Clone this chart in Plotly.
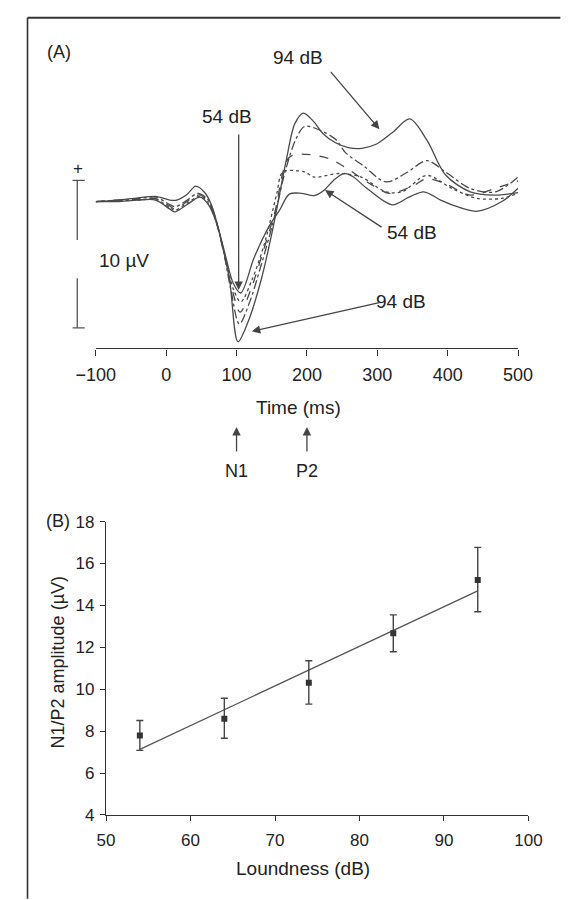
import numpy as np
import plotly.graph_objects as go

# ---------------- Panel A data: ERP waveforms (time ms, amplitude µV) ----------------
t_94 = [-100, -70, -40, -15, 5, 15, 30, 42, 55, 65, 76, 90, 102, 116, 135, 152, 170, 183, 195, 210, 223, 240, 259, 278, 299, 322, 346, 370, 397, 432, 466, 500]
v_94 = [0, 0.1, 0.25, 0.35, 0.1, 0.1, 0.5, 1.05, 0.6, -0.3, -2.2, -5.3, -9.5, -8.2, -5.3, -1.75, 2.65, 5.3, 6.0, 5.4, 4.6, 4.0, 3.65, 3.6, 3.9, 4.7, 5.6, 4.2, 1.8, 0.66, 0.44, 0.6]

t_84 = [-100, -70, -40, -15, 5, 13, 30, 45, 58, 68, 80, 92, 104, 118, 135, 152, 170, 185, 197, 220, 241, 255, 281, 312, 343, 370, 397, 432, 468, 500]
v_84 = [0, 0.05, 0.2, 0.3, -0.2, -0.35, 0.1, 0.55, 0.2, -0.8, -3.0, -6.0, -8.3, -6.9, -4.3, -1.4, 2.2, 4.3, 5.1, 4.8, 4.2, 3.3, 2.4, 1.33, 2.0, 2.77, 2.0, 0.89, 0.66, 1.66]

t_74 = [-100, -70, -40, -15, 5, 12, 30, 47, 60, 70, 82, 94, 105, 120, 137, 154, 175, 200, 232, 255, 290, 317, 352, 370, 397, 432, 468, 500]
v_74 = [0, 0.1, 0.15, 0.2, -0.3, -0.5, 0.0, 0.45, 0.0, -1.2, -3.5, -6.0, -7.5, -6.0, -3.5, -0.8, 3.0, 3.2, 2.9, 2.3, 1.2, 0.56, 1.1, 1.55, 1.2, 0.44, 0.9, 1.4]

t_64 = [-100, -70, -40, -15, 5, 12, 30, 48, 60, 72, 85, 96, 106, 122, 140, 157, 166, 197, 210, 246, 277, 312, 335, 370, 406, 441, 477, 500]
v_64 = [0, 0.05, 0.1, 0.15, -0.4, -0.6, -0.1, 0.35, -0.1, -1.5, -4.0, -6.0, -6.8, -5.3, -2.8, 0.5, 2.0, 2.0, 1.66, 1.9, 1.66, 0.66, 0.66, 1.77, 0.89, 0.22, 0.22, 0.56]

t_54 = [-100, -70, -40, -15, 5, 12, 30, 48, 60, 72, 85, 95, 106, 125, 146, 161, 175, 192, 210, 224, 237, 252, 265, 285, 321, 345, 366, 390, 406, 441, 477, 500]
v_54 = [0, 0.0, 0.1, 0.1, -0.5, -0.7, -0.2, 0.3, -0.2, -1.5, -3.8, -5.5, -6.2, -3.8, -1.7, -0.6, 0.5, 0.56, 0.4, 0.75, 1.4, 1.9, 1.7, 0.9, -0.22, 0.3, 0.66, 0.1, -0.22, -0.66, 0.0, 0.9]

time_ticks = [-100, 0, 100, 200, 300, 400, 500]

# ---------------- Panel B data: N1/P2 amplitude vs loudness ----------------
loudness = [54, 64, 74, 84, 94]
amp_mean = [7.79, 8.59, 10.31, 12.67, 15.21]
amp_err_up = [0.72, 0.98, 1.05, 0.88, 1.56]
amp_err_down = [0.71, 0.93, 1.02, 0.88, 1.51]
loud_ticks = [50, 60, 70, 80, 90, 100]
amp_ticks = [4, 6, 8, 10, 12, 14, 16, 18]

# ---------------- layout helpers (pixel -> paper, figure is 570 x 900, no margins) ----
W, H = 570, 900
def px(x):
    return x / W
def py(y):
    return 1 - y / H

FONT = "Liberation Sans, Arial, Helvetica, sans-serif"
TXT = "#222222"
LINE = "#4a4a4a"

fig = go.Figure()

styles = [
    ("54 dB", t_54, v_54, "solid"),
    ("64 dB", t_64, v_64, "dot"),
    ("74 dB", t_74, v_74, "dash"),
    ("84 dB", t_84, v_84, "dashdot"),
    ("94 dB", t_94, v_94, "solid"),
]
for name, t, v, dash in styles:
    fig.add_trace(go.Scatter(
        x=t, y=v, mode="lines", name=name,
        line=dict(color=LINE, width=1.3, dash=dash, shape="spline", smoothing=0.9),
        xaxis="x", yaxis="y", showlegend=False, hoverinfo="skip"))

# regression line through the plotted means
slope, intercept = np.polyfit(loudness, amp_mean, 1)
fit_x = [loudness[0], loudness[-1]]
fit_y = [slope * x + intercept for x in fit_x]
fig.add_trace(go.Scatter(x=fit_x, y=fit_y, mode="lines",
                         line=dict(color="#555555", width=1.3),
                         xaxis="x2", yaxis="y2", showlegend=False))
fig.add_trace(go.Scatter(
    x=loudness, y=amp_mean, mode="markers",
    marker=dict(color="#333333", size=6, symbol="square"),
    error_y=dict(type="data", symmetric=False, array=amp_err_up,
                 arrayminus=amp_err_down, color="#444444",
                 thickness=1.4, width=3.5),
    xaxis="x2", yaxis="y2", showlegend=False))

# Panel A voltage range chosen so that 10 µV = 150.7 px
mv_per_px = 1 / 15.07
yA_top, yA_bot = 90, 346.7
base_px = 196.7
yA_range = [(base_px - yA_bot) * mv_per_px, (base_px - yA_top) * mv_per_px]

axis_common = dict(showgrid=False, zeroline=False, showline=True,
                   linecolor="#333333", linewidth=1.3, ticks="outside",
                   tickcolor="#333333", tickwidth=1.3,
                   tickfont=dict(family=FONT, size=18, color=TXT))

fig.update_layout(
    width=W, height=H,
    margin=dict(l=0, r=0, t=0, b=0),
    paper_bgcolor="white", plot_bgcolor="white",
    xaxis=dict(domain=[px(80.7), px(530.7)], range=[-100, 500],
               tickvals=time_ticks, ticklen=6, anchor="y",
               ticklabelstandoff=4, **axis_common),
    yaxis=dict(domain=[py(yA_bot), py(yA_top)], range=yA_range,
               visible=False, anchor="x"),
    xaxis2=dict(domain=[px(91.7), px(541.7)], range=[50, 100],
                tickvals=loud_ticks, ticklen=5, anchor="y2",
                ticklabelstandoff=5,
                **{**axis_common, "tickfont": dict(family=FONT, size=17, color=TXT)}),
    yaxis2=dict(domain=[py(823.3), py(523.7)], range=[4, 18],
                tickvals=amp_ticks, ticklen=5, anchor="x2",
                ticklabelstandoff=2,
                **{**axis_common, "tickfont": dict(family=FONT, size=17, color=TXT)}),
)

def text(x, y, s, size=18, angle=0, xanchor="center"):
    fig.add_annotation(x=px(x), y=py(y), xref="paper", yref="paper", text=s,
                       showarrow=False, textangle=angle, xanchor=xanchor,
                       yanchor="middle",
                       font=dict(family=FONT, size=size, color=TXT))

def t2px(t):
    return 80.7 + 0.75 * (t + 100)
def v2px(v):
    return base_px - v * 15.07

def arrow_data(t, v, tail_x, tail_y):
    fig.add_annotation(x=t, y=v, xref="x", yref="y", text="", showarrow=True,
                       ax=tail_x - t2px(t), ay=tail_y - v2px(v),
                       arrowhead=2, arrowsize=1.3, arrowwidth=1.3,
                       arrowcolor="#444444")

def arrow_paper(x, y, tail_x, tail_y):
    fig.add_annotation(x=px(x), y=py(y), xref="paper", yref="paper", text="",
                       showarrow=True, ax=tail_x - x, ay=tail_y - y,
                       arrowhead=2, arrowsize=1.3, arrowwidth=1.3,
                       arrowcolor="#444444")

# panel A labels and arrows
text(42, 44, "(A)")
text(296, 50, "94 dB", size=19)
text(221, 110, "54 dB", size=19)
text(418, 228, "54 dB", size=19)
text(406, 299, "94 dB", size=19)
text(82, 257, "10 µV", size=19, xanchor="left")
text(62, 163, "+", size=17)
text(296.5, 407, "Time (ms)", size=19)
text(t2px(100), 472, "N1", size=18)
text(t2px(200), 472, "P2", size=18)

arrow_data(303, 4.9, 333, 64)
arrow_data(103, -6.0, 233, 130)
arrow_data(225.7, 0.78, 383, 223)
arrow_data(121.7, -8.8, 377, 300)
arrow_paper(t2px(100), 427, t2px(100), 453)
arrow_paper(t2px(200), 427, t2px(200), 453)

# scale bar (10 µV) in panel A
bar_top = (base_px - 175) * mv_per_px
bar_bot = bar_top - 10
gap_top = (base_px - 236) * mv_per_px
gap_bot = (base_px - 275) * mv_per_px
for y0, y1 in [(gap_top, bar_top), (bar_bot, gap_bot)]:
    fig.add_shape(type="line", xref="paper", yref="y", x0=px(61), x1=px(61),
                  y0=y0, y1=y1, line=dict(color="#555555", width=1.3))
for yv in [bar_top, bar_bot]:
    fig.add_shape(type="line", xref="paper", yref="y", x0=px(56), x1=px(69),
                  y0=yv, y1=yv, line=dict(color="#555555", width=1.3))

# panel B labels
text(40, 523, "(B)")
text(301, 878, "Loundness (dB)", size=19)
text(40, 668, "N1/P2 amplitude (µV)", size=18, angle=-90)

# frame border (left and top)
fig.add_shape(type="line", xref="paper", yref="paper", x0=px(8), x1=1.01,
              y0=py(9), y1=py(9), line=dict(color="#333333", width=2))
fig.add_shape(type="line", xref="paper", yref="paper", x0=px(8), x1=px(8),
              y0=py(9), y1=-0.01, line=dict(color="#333333", width=1.6))

fig.write_html(
    "out.html",
    config={"displayModeBar": False},
    post_script="document.body.style.margin='0';document.body.style.overflow='hidden';",
)
